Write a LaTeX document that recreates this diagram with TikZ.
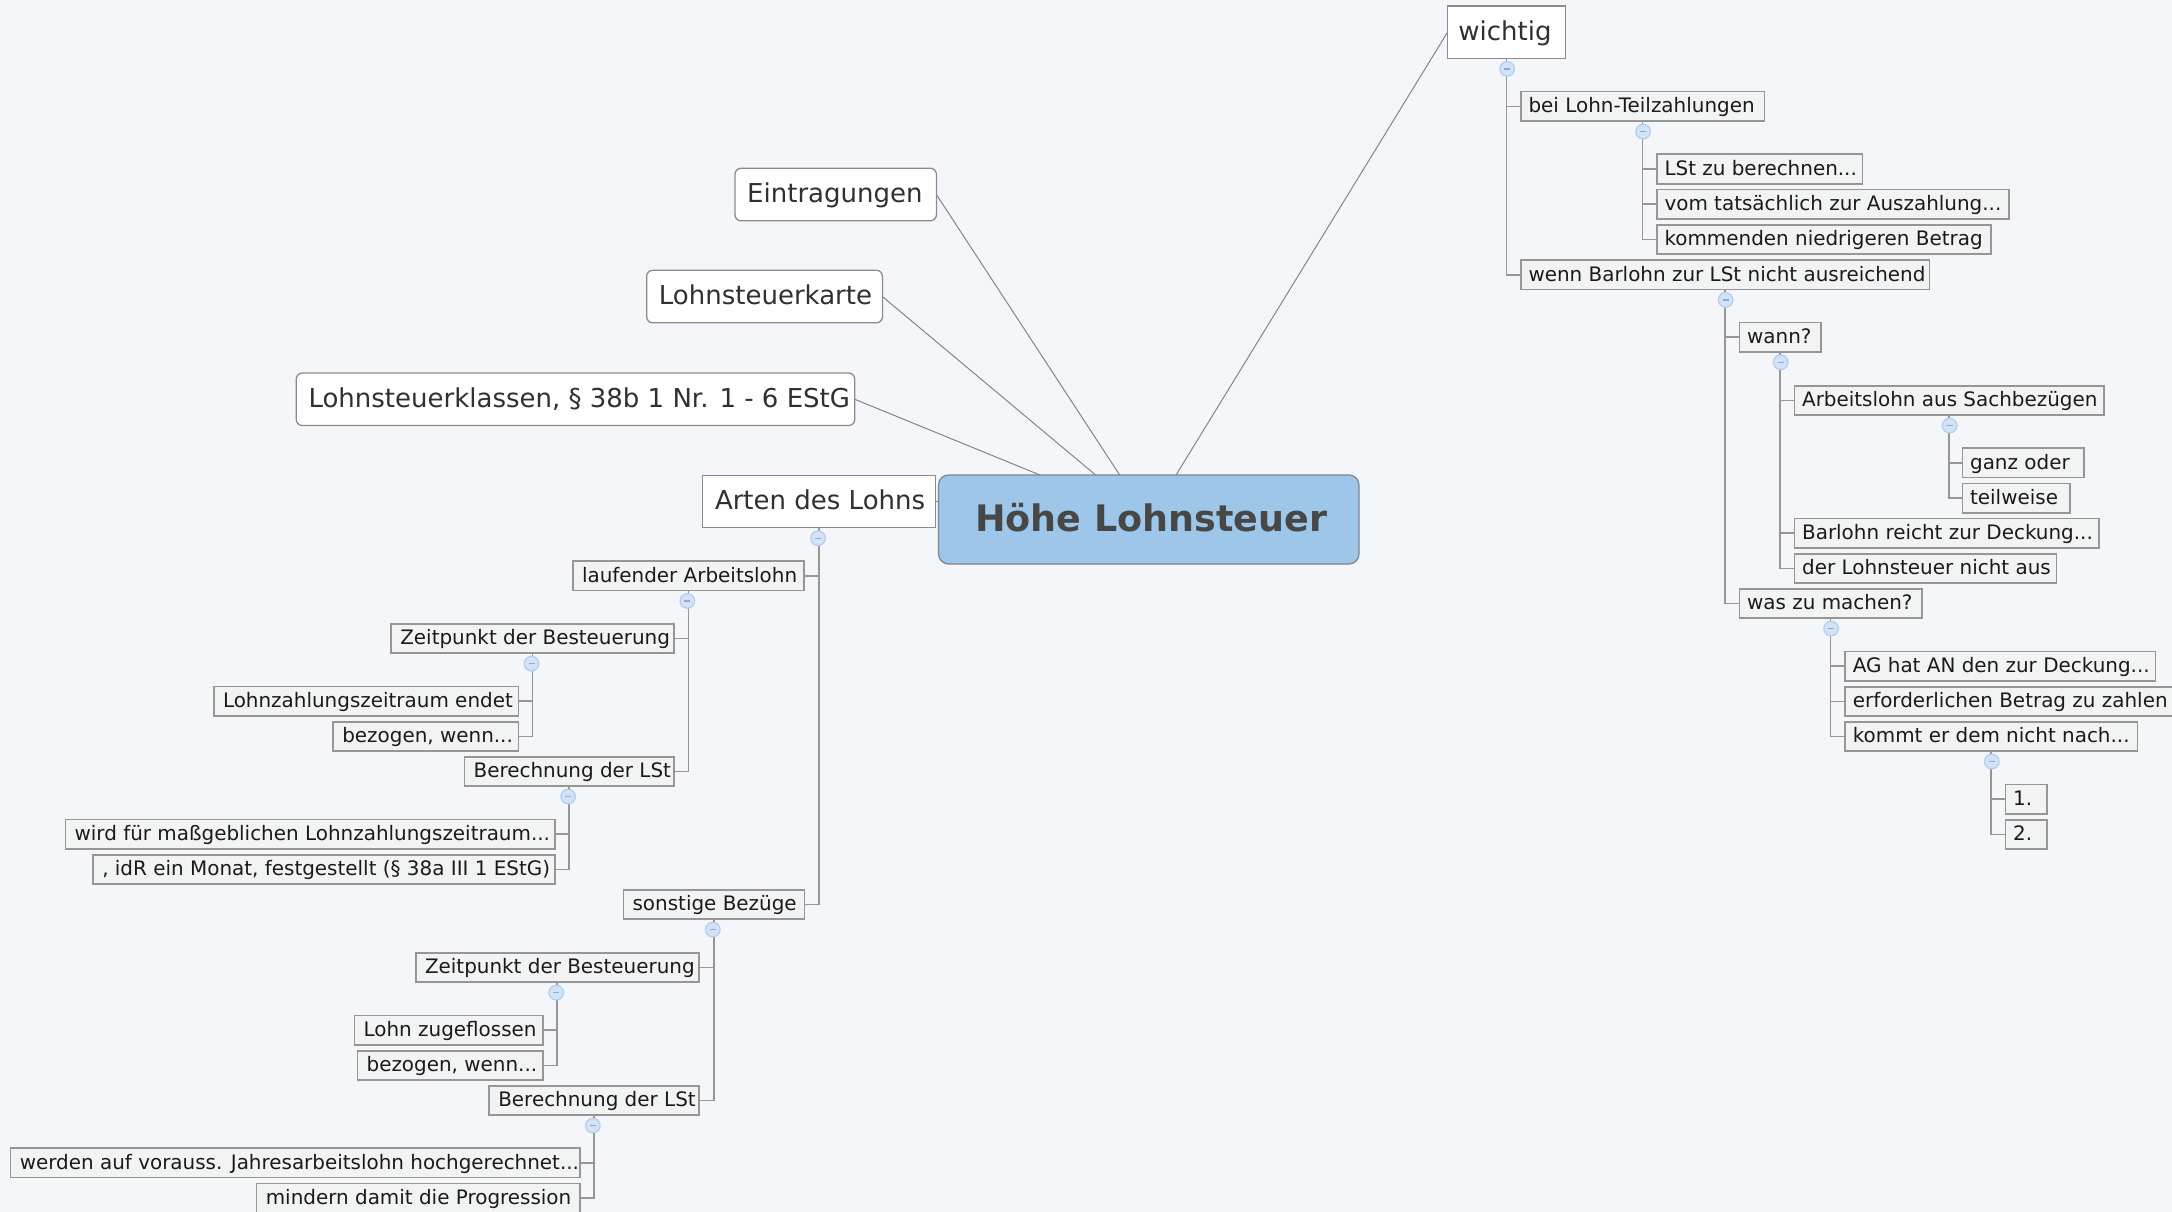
\documentclass[tikz,border=0pt]{standalone}
\usepackage{fontspec}
\setmainfont{DejaVu Sans}
\usetikzlibrary{backgrounds}
\definecolor{pagebg}{HTML}{F4F6FA}
\definecolor{rootfill}{HTML}{9DC6E9}
\definecolor{rootedge}{HTML}{7D8790}
\definecolor{roottext}{HTML}{474747}
\definecolor{topicedge}{HTML}{8C8C8C}
\definecolor{topictext}{HTML}{303030}
\definecolor{childfill}{HTML}{F2F4F3}
\definecolor{childedge}{HTML}{969696}
\definecolor{childtext}{HTML}{1A1A1A}
\definecolor{btnfill}{HTML}{D2E3F8}
\definecolor{btnedge}{HTML}{B3CDEF}
\definecolor{btnminus}{HTML}{93A9D4}
\tikzset{
  childbox/.style={draw=childedge,line width=1.6pt,fill=childfill,text=childtext,inner sep=0pt,outer sep=0pt,anchor=north west,text height=21pt,text depth=8.5pt,font=\fontsize{19.93pt}{24pt}\selectfont},
  topicbox/.style={draw=topicedge,line width=1.3pt,fill=white,text=topictext,inner sep=0pt,outer sep=0pt,anchor=north west,text height=34.3pt,text depth=18.2pt,font=\fontsize{26pt}{30pt}\selectfont},
  roundtopic/.style={topicbox,rounded corners=6pt},
  rootbox/.style={draw=rootedge,line width=1.2pt,fill=rootfill,text=roottext,inner sep=0pt,outer sep=0pt,anchor=north west,rounded corners=10pt,text height=56.7pt,text depth=32.3pt,font=\bfseries\fontsize{36.5pt}{42pt}\selectfont},
  link/.style={draw=childedge,line width=1.6pt},
  spoke/.style={draw=rootedge,line width=1pt},
  btn/.style={circle,draw=btnedge,line width=1.2pt,fill=btnfill,minimum size=14.6pt,inner sep=0pt,outer sep=0pt,
    path picture={\draw[btnminus,line width=1.3pt] ([xshift=-3pt]path picture bounding box.center) -- ([xshift=3pt]path picture bounding box.center);}}
}
% name, x1, x2, top, left pad, text, style
\newcommand{\bxnode}[7]{%
  \pgfmathsetmacro{\bw}{#3-#2}%
  \node[#7] (#1) at (#2,#4) {\makebox[\bw pt][l]{\hspace*{#5pt}#6}};}
\newcommand{\rbx}[5]{\bxnode{#1}{#2}{#3}{#4}{7.8}{#5}{childbox}}
\newcommand{\lbx}[5]{\bxnode{#1}{#2}{#3}{#4}{9.3}{#5}{childbox}}
\newcommand{\btnat}[2]{\node[btn] (btn-#1) at ([xshift=#2pt,yshift=-10.4pt]#1.south) {};}
\newcommand{\rlink}[2]{\begin{pgfonlayer}{background}\draw[link] (#1.south) |- (#2.west);\end{pgfonlayer}}
\newcommand{\llink}[2]{\begin{pgfonlayer}{background}\draw[link] (#1.south) |- (#2.east);\end{pgfonlayer}}
\newcommand{\rootlink}[2]{\begin{pgfonlayer}{background}\draw[spoke] (#1.#2) -- (root.center);\end{pgfonlayer}}
\begin{document}
\begin{tikzpicture}[x=1pt,y=-1pt]
\useasboundingbox (0,0) rectangle (2172,1212);
\begin{pgfonlayer}{background}
\fill[pagebg] (0,0) rectangle (2172,1212);
\end{pgfonlayer}
% root
\bxnode{root}{938.5}{1359}{475}{36.6}{Höhe Lohnsteuer}{rootbox}
% main topics
\bxnode{wichtig}{1447.5}{1565.7}{6}{10.8}{wichtig}{topicbox}
\bxnode{eintragungen}{735}{936.4}{168.3}{12.2}{Eintragungen}{roundtopic}
\bxnode{karte}{646.7}{882.4}{270.3}{12.2}{Lohnsteuerkarte}{roundtopic}
\bxnode{klassen}{296.3}{854.7}{373}{12.2}{Lohnsteuerklassen, § 38b 1 Nr. 1 - 6 EStG}{roundtopic}
\bxnode{arten}{702.6}{935.6}{475.3}{12.4}{Arten des Lohns}{topicbox}
\rootlink{wichtig}{west}
\rootlink{eintragungen}{east}
\rootlink{karte}{east}
\rootlink{klassen}{east}
\rootlink{arten}{east}
% right branch
\rbx{bei}{1520.7}{1764.3}{91.7}{bei Lohn-Teilzahlungen}
\rbx{lst}{1656.7}{1862.3}{154.3}{LSt zu berechnen...}
\rbx{vom}{1656.7}{2009}{189.3}{vom tatsächlich zur Auszahlung...}
\rbx{kommenden}{1656.7}{1990.7}{224.7}{kommenden niedrigeren Betrag}
\rbx{wenn}{1520.7}{1929.3}{260}{wenn Barlohn zur LSt nicht ausreichend}
\rbx{wann}{1739.3}{1821}{322.3}{wann?}
\rbx{arbeitslohn}{1794.3}{2103.7}{385.7}{Arbeitslohn aus Sachbezügen}
\rbx{ganz}{1962.3}{2083.7}{448}{ganz oder}
\rbx{teilweise}{1962.3}{2070}{483.3}{teilweise}
\rbx{barlohn}{1794.3}{2099}{518.3}{Barlohn reicht zur Deckung...}
\rbx{derlohn}{1794.3}{2056.3}{553.7}{der Lohnsteuer nicht aus}
\rbx{was}{1739.3}{1921.7}{588.7}{was zu machen?}
\rbx{ag}{1845}{2155.3}{651.3}{AG hat AN den zur Deckung...}
\rbx{erf}{1845}{2177}{686.7}{erforderlichen Betrag zu zahlen}
\rbx{kommt}{1845}{2137.3}{721.7}{kommt er dem nicht nach...}
\rbx{eins}{2005.3}{2047}{784.3}{1.}
\rbx{zwei}{2005.3}{2047}{819.7}{2.}
% left branch
\lbx{laufend}{572.7}{804}{561}{laufender Arbeitslohn}
\lbx{zeit}{391}{674}{623.7}{Zeitpunkt der Besteuerung}
\lbx{lohnz}{213.7}{518.3}{686.3}{Lohnzahlungszeitraum endet}
\lbx{bez}{333}{518.3}{721.7}{bezogen, wenn...}
\lbx{ber}{464.3}{674}{756.7}{Berechnung der LSt}
\lbx{wird}{65.3}{555}{819.3}{wird für maßgeblichen Lohnzahlungszeitraum...}
\lbx{idr}{93}{555}{854.7}{, idR ein Monat, festgestellt (§ 38a III 1 EStG)}
\lbx{sonst}{623.3}{804.3}{889.7}{sonstige Bezüge}
\lbx{zeitb}{415.7}{698.7}{952.7}{Zeitpunkt der Besteuerung}
\lbx{zugef}{354.3}{542.7}{1015.3}{Lohn zugeflossen}
\lbx{bezb}{357.3}{542.7}{1050.7}{bezogen, wenn...}
\lbx{berb}{489}{698.7}{1085.7}{Berechnung der LSt}
\lbx{werden}{10.5}{580}{1148}{werden auf vorauss. Jahresarbeitslohn hochgerechnet...}
\lbx{mindern}{256.5}{580}{1183.3}{mindern damit die Progression}
% connectors
\rlink{wichtig}{bei}\rlink{wichtig}{wenn}
\rlink{bei}{lst}\rlink{bei}{vom}\rlink{bei}{kommenden}
\rlink{wenn}{wann}\rlink{wenn}{was}
\rlink{wann}{arbeitslohn}\rlink{wann}{barlohn}\rlink{wann}{derlohn}
\rlink{arbeitslohn}{ganz}\rlink{arbeitslohn}{teilweise}
\rlink{was}{ag}\rlink{was}{erf}\rlink{was}{kommt}
\rlink{kommt}{eins}\rlink{kommt}{zwei}
\llink{arten}{laufend}\llink{arten}{sonst}
\llink{laufend}{zeit}\llink{laufend}{ber}
\llink{zeit}{lohnz}\llink{zeit}{bez}
\llink{ber}{wird}\llink{ber}{idr}
\llink{sonst}{zeitb}\llink{sonst}{berb}
\llink{zeitb}{zugef}\llink{zeitb}{bezb}
\llink{berb}{werden}\llink{berb}{mindern}
% collapse buttons
\btnat{wichtig}{0.6}\btnat{bei}{0.6}\btnat{wenn}{0.6}\btnat{wann}{0.6}\btnat{arbeitslohn}{0.6}\btnat{was}{0.6}\btnat{kommt}{0.6}
\btnat{arten}{-1}\btnat{laufend}{-1}\btnat{zeit}{-1}\btnat{ber}{-1}\btnat{sonst}{-1}\btnat{zeitb}{-1}\btnat{berb}{-1}
\end{tikzpicture}
\end{document}
